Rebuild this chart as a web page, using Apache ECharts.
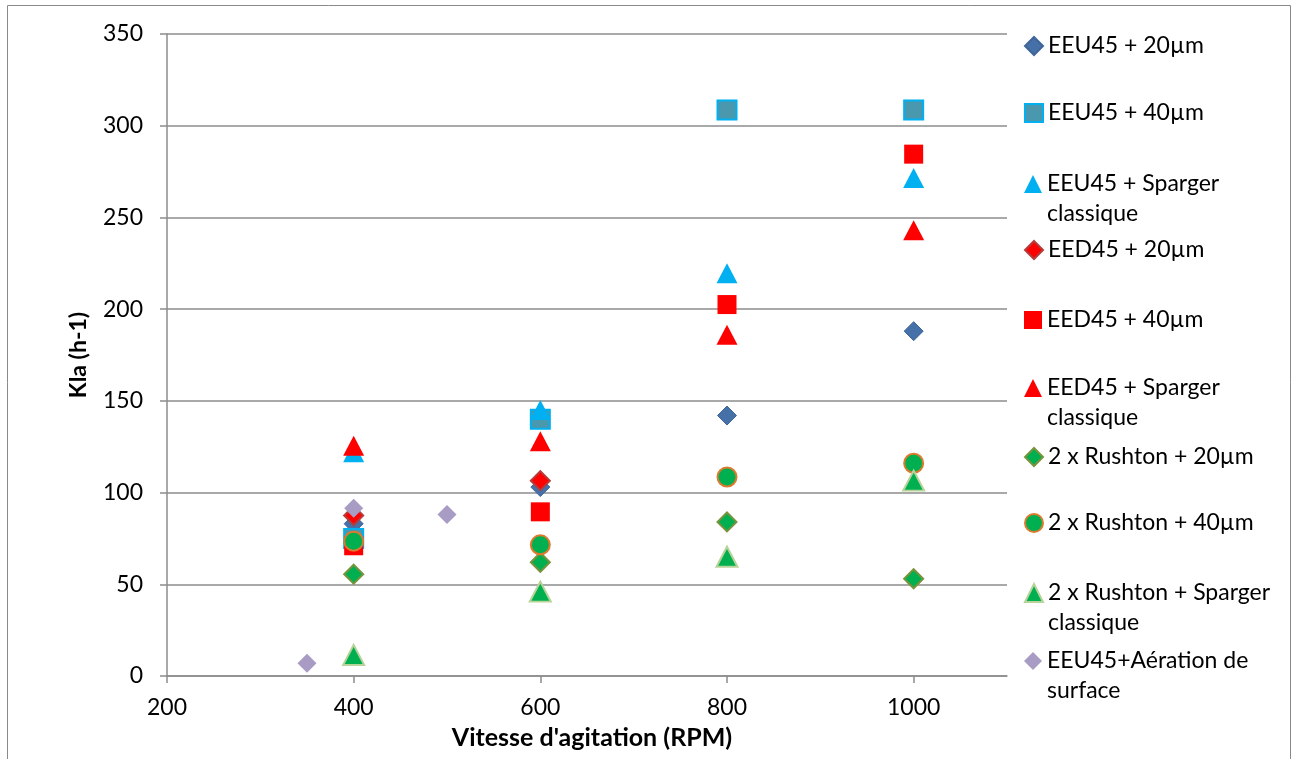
<!DOCTYPE html>
<html>
<head>
<meta charset="utf-8">
<script src="https://cdn.jsdelivr.net/npm/echarts@6/dist/echarts.min.js"></script>
<style>
html,body{margin:0;padding:0;background:#fff;}
#chart{width:1297px;height:759px;}
</style>
</head>
<body>
<div id="chart"></div>
<script>
// ---- data ----
const rpm = [400, 600, 800, 1000];
const rpmEed20 = [400, 600];
const eeu45_20um = [83, 103, 142, 188];
const eeu45_40um = [75, 140, 308.5, 308.5];
const eeu45_sparger = [122, 145, 219.5, 271.5];
const eed45_20um = [87.5, 106.5];
const eed45_40um = [71, 89.5, 202.5, 284.5];
const eed45_sparger = [125.5, 128, 186, 243];
const rushton_20um = [55.5, 62, 84, 53];
const rushton_40um = [73.5, 71.5, 108.5, 116];
const rushton_sparger = [11.5, 46, 65, 106.5];
const aerationRpm = [350, 400, 500];
const aerationKla = [7, 91.5, 88];

const seriesNames = [
  'EEU45 + 20µm', 'EEU45 + 40µm', 'EEU45 + Sparger classique',
  'EED45 + 20µm', 'EED45 + 40µm', 'EED45 + Sparger classique',
  '2 x Rushton + 20µm', '2 x Rushton + 40µm', '2 x Rushton + Sparger classique',
  'EEU45+Aération de surface'
];
const legendLines = [
  ['EEU45 + 20µm'], ['EEU45 + 40µm'], ['EEU45 + Sparger', 'classique'],
  ['EED45 + 20µm'], ['EED45 + 40µm'], ['EED45 + Sparger', 'classique'],
  ['2 x Rushton + 20µm'], ['2 x Rushton + 40µm'], ['2 x Rushton + Sparger', 'classique'],
  ['EEU45+Aération de', 'surface']
];
const xTicks = [200, 400, 600, 800, 1000];

// ---- styling ----
const styles = [
  {symbol: 'diamond',  color: '#4670A8', border: '#3F659A', bw: 1},
  {symbol: 'rect',     color: '#4A98AE', border: '#00B0F0', bw: 2},
  {symbol: 'triangle', color: '#00B0F0', border: '#00B0F0', bw: 0},
  {symbol: 'diamond',  color: '#FF0000', border: '#B53C3A', bw: 2},
  {symbol: 'rect',     color: '#FF0000', border: '#FF0000', bw: 0},
  {symbol: 'triangle', color: '#FF0000', border: '#FF0000', bw: 0},
  {symbol: 'diamond',  color: '#00B050', border: '#77933C', bw: 2},
  {symbol: 'circle',   color: '#00B050', border: '#DD7A2E', bw: 2},
  {symbol: 'triangle', color: '#00B050', border: '#B8D39A', bw: 2},
  {symbol: 'diamond',  color: '#A99CC4', border: '#A99CC4', bw: 0}
];
const seriesData = [
  [rpm, eeu45_20um], [rpm, eeu45_40um], [rpm, eeu45_sparger],
  [rpmEed20, eed45_20um], [rpm, eed45_40um], [rpm, eed45_sparger],
  [rpm, rushton_20um], [rpm, rushton_40um], [rpm, rushton_sparger],
  [aerationRpm, aerationKla]
];
const legendCenters = [46, 113, 184, 250, 320, 388, 457, 523, 593, 661];

const FONT = 'Lato, "Open Sans", sans-serif';
const LH = 30;

const series = seriesNames.map((name, i) => ({
  name: name,
  type: 'scatter',
  symbol: styles[i].symbol,
  symbolSize: styles[i].symbol === 'triangle' ? [21, 20] : 19,
  itemStyle: {color: styles[i].color, borderColor: styles[i].border, borderWidth: styles[i].bw, opacity: 1},
  emphasis: {disabled: true},
  data: seriesData[i][0].map((x, k) => [x, seriesData[i][1][k]])
}));

const legends = seriesNames.map((name, i) => {
  const lines = legendLines[i];
  const two = lines.length > 1;
  return {
    data: [name],
    orient: 'vertical',
    left: 1024,
    top: legendCenters[i] - (two ? LH * 1.5 : LH / 2),
    padding: 0,
    itemWidth: 18,
    itemHeight: 18,
    itemGap: 0,
    formatter: () => (two ? ' \n' : '') + lines.join('\n'),
    textStyle: {fontFamily: FONT, fontSize: 23, color: '#000', lineHeight: LH}
  };
});

const chart = echarts.init(document.getElementById('chart'), null, {renderer: 'canvas'});
chart.setOption({
  animation: false,
  backgroundColor: '#fff',
  grid: {left: 167, right: 290, top: 34, bottom: 83, containLabel: false},
  graphic: [{
    type: 'rect', silent: true, z: -10,
    shape: {x: 7.5, y: 5.5, width: 1283, height: 800},
    style: {fill: 'none', stroke: '#8a8a8a', lineWidth: 1}
  }],
  legend: legends,
  xAxis: {
    type: 'value', min: 200, max: 1100, interval: 200,
    name: "Vitesse d'agitation (RPM)", nameLocation: 'middle', nameGap: 49,
    nameTextStyle: {fontFamily: FONT, fontSize: 25, fontWeight: 'bold', color: '#000', padding: [0, 0, 0, 10]},
    axisLine: {show: true, lineStyle: {color: '#8c8c8c', width: 1.5}},
    axisTick: {show: true, length: 7, lineStyle: {color: '#8c8c8c', width: 1.5}, customValues: xTicks},
    axisLabel: {fontFamily: FONT, fontSize: 23, color: '#000', margin: 20, customValues: xTicks,
      formatter: v => String(v)},
    splitLine: {show: false}
  },
  yAxis: {
    type: 'value', min: 0, max: 350, interval: 50,
    name: 'Kla (h-1)', nameLocation: 'middle', nameGap: 77,
    nameTextStyle: {fontFamily: FONT, fontSize: 23, fontWeight: 'bold', color: '#000'},
    axisLine: {show: true, lineStyle: {color: '#8c8c8c', width: 1.5}},
    axisTick: {show: true, length: 7, lineStyle: {color: '#8c8c8c', width: 1.5}},
    axisLabel: {fontFamily: FONT, fontSize: 23, color: '#000', margin: 24, formatter: v => String(v)},
    splitLine: {show: true, lineStyle: {color: '#8c8c8c', width: 1.5}}
  },
  series: series
});
</script>
</body>
</html>
